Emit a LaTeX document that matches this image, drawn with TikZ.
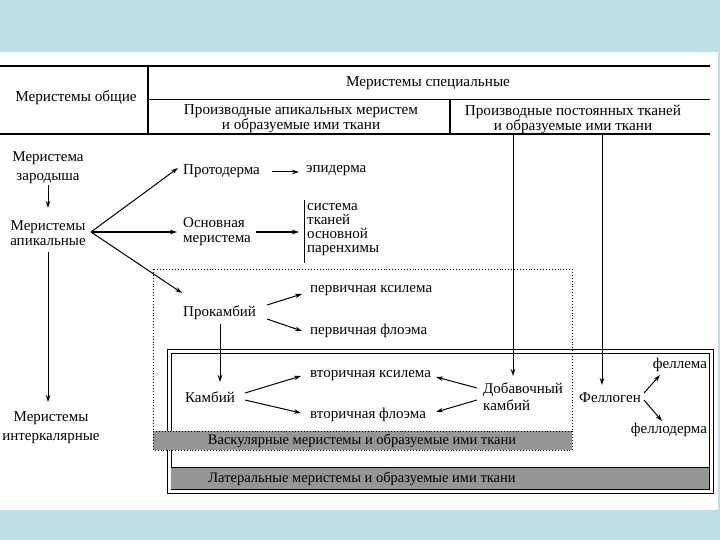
\documentclass[tikz,border=0pt]{standalone}
\usepackage{fontspec}
\setmainfont{Liberation Serif}
\usetikzlibrary{arrows.meta}
\definecolor{bgteal}{RGB}{188,224,227}
\definecolor{bandgray}{RGB}{150,150,150}
\begin{document}
\begin{tikzpicture}[x=1pt,y=-1pt,
  font=\fontsize{15}{17}\selectfont,
  txt/.style={inner sep=1pt, align=center},
  hdr/.style={inner sep=1pt, align=center, font=\fontsize{15.2}{14}\selectfont},
  arr/.style={-{Stealth[length=7pt,width=4.5pt]}, line width=1pt},
  tline/.style={line width=1.4pt},
  band/.style={fill=bandgray},
  bandtxt/.style={inner sep=0pt, font=\fontsize{14.5}{15}\selectfont}]
\useasboundingbox (0,0) rectangle (720,540);
\fill[bgteal] (0,0) rectangle (720,540);
\fill[white] (0,52) rectangle (718,510);

% table header
\draw[tline] (0,66) -- (710,66);
\draw[tline] (148,66) -- (148,134);
\draw[line width=1pt] (148,100) -- (710,100);
\draw[tline] (450,100) -- (450,134);
\draw[tline] (0,134) -- (710,134);
\node[hdr] (gen) at (76,98) {Меристемы общие};
\node[hdr] (spec) at (428,83) {Меристемы специальные};
\node[hdr] (apder) at (301,119) {Производные апикальных меристем\\и образуемые ими ткани};
\node[hdr] (perm) at (573,119) {Производные постоянных тканей\\и образуемые ими ткани};

% lateral meristems frame (double line)
\draw[line width=1pt] (167,349) rectangle (713,493);
\draw[line width=0.6pt] (171,353) rectangle (709,489);
\fill[band] (171,467) rectangle (709,489);
\draw[line width=1pt] (171,467) -- (709,467);
\node[bandtxt] (lat) at (362,479) {Латеральные меристемы и образуемые ими ткани};

% vascular meristems frame (dotted)
\fill[band] (153,431) rectangle (572,450);
\draw[dotted, line width=0.9pt] (153,269) rectangle (572,450);
\draw[dotted, line width=0.9pt] (153,431) -- (572,431);
\node[bandtxt] (vas) at (362,441) {Васкулярные меристемы и образуемые ими ткани};

% left column
\node[txt, font=\fontsize{15}{19}\selectfont] (zar) at (48,168) {Меристема\\зародыша};
\node[txt, font=\fontsize{15}{15}\selectfont] (ap) at (48,233) {Меристемы\\апикальные};
\node[txt, font=\fontsize{15}{19}\selectfont] (int) at (51,428) {Меристемы\\интеркалярные};
\draw[arr] (48,185) -- (48,208);
\draw[arr] (48,252) -- (48,402);

% apical derivatives
\coordinate (apx) at (91,232);
\node[txt, anchor=west] (prot) at (182,171) {Протодерма};
\node[txt, anchor=west] (epi) at (305,171) {эпидерма};
\node[txt, anchor=west, align=left, font=\fontsize{15}{15}\selectfont] (osn) at (182,232) {Основная\\меристема};
\node[txt, anchor=west, align=left, font=\fontsize{15}{14}\selectfont] (sys) at (306,230) {система\\тканей\\основной\\паренхимы};
\draw[line width=1pt] (304,200) -- (304,263);
\node[txt, anchor=west] (prok) at (182,313) {Прокамбий};
\node[txt, anchor=west] (pxyl) at (309,291) {первичная ксилема};
\node[txt, anchor=west] (pphl) at (309,331) {первичная флоэма};

\draw[arr] (apx) -- (178,168);
\draw[arr] (apx) -- (177,232);
\draw[arr] (apx) -- (182,293);
\draw[arr] (272,172) -- (299,172);
\draw[arr] (256,232) -- (299,232);
\draw[arr] (267,305) -- (302,294);
\draw[arr] (267,319) -- (302,331);

% cambium
\node[txt] (kamb) at (210,397) {Камбий};
\node[txt, anchor=west] (sxyl) at (309,376) {вторичная ксилема};
\node[txt, anchor=west] (sphl) at (309,415) {вторичная флоэма};
\draw[arr] (220,324) -- (220,382);
\draw[arr] (245,393) -- (301,376);
\draw[arr] (245,400) -- (301,413);

% additional cambium
\node[txt, anchor=west, align=left, font=\fontsize{15}{17}\selectfont] (dob) at (482,397) {Добавочный\\камбий};
\draw[arr] (513,134) -- (513,376);
\draw[arr] (477,388) -- (436,377);
\draw[arr] (477,400) -- (436,412);

% phellogen
\node[txt] (fell) at (610,398) {Феллоген};
\node[txt] (fellema) at (680,365) {феллема};
\node[txt] (felld) at (669,430) {феллодерма};
\draw[arr] (602,134) -- (602,385);
\draw[arr] (644,393) -- (660,375);
\draw[arr] (644,400) -- (662,421);
\end{tikzpicture}
\end{document}
